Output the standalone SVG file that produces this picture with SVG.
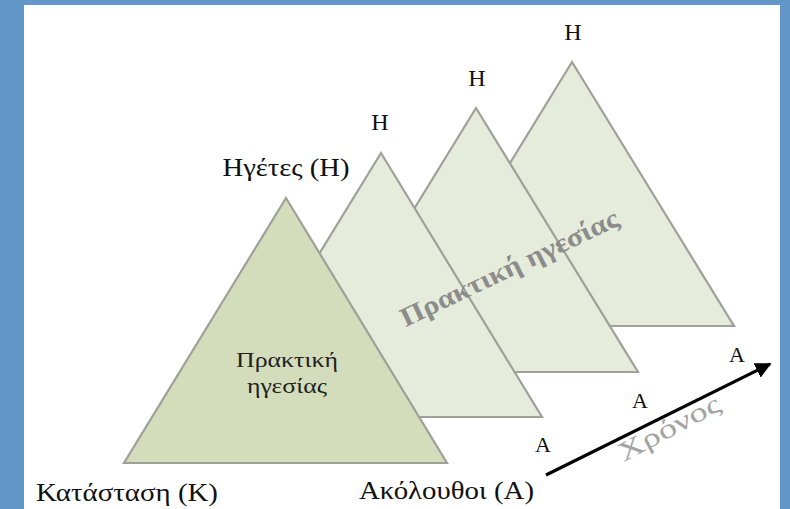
<svg xmlns="http://www.w3.org/2000/svg" width="790" height="509" viewBox="0 0 790 509">
<defs>
<style>
.tri{stroke:#9fa198;stroke-width:2.2;stroke-linejoin:miter}
.back{fill:#e6ecdb}
.front{fill:#d4ddbb}
text{font-family:'Liberation Serif','DejaVu Serif',serif}
</style>
<marker id="ah" viewBox="0 0 10 10" refX="9" refY="5" markerWidth="5" markerHeight="5" orient="auto" markerUnits="strokeWidth">
<path d="M0,0 L10,5 L0,10 z" fill="#000"/>
</marker>
</defs>
<rect x="0" y="0" width="790" height="509" fill="#6497c9"/>
<rect x="24" y="5" width="756" height="504" fill="#ffffff"/>
<g id="tri4"><polygon class="tri back" points="572,62 410,326 734,326"/></g>
<g id="tri3"><polygon class="tri back" points="476,108 314,372 638,372"/></g>
<g id="tri2"><polygon class="tri back" points="381,153 219,417 542,417"/></g>
<g id="tri1"><polygon class="tri front" points="286,198 124,463 447,463"/>
<text x="287" y="367" font-size="21" text-anchor="middle" fill="#222" textLength="102" lengthAdjust="spacingAndGlyphs">Πρακτική</text>
<text x="287" y="393" font-size="21" text-anchor="middle" fill="#222" textLength="80" lengthAdjust="spacingAndGlyphs">ηγεσίας</text>
</g>
<g id="labels" fill="#111">
<text x="286" y="176" font-size="25" text-anchor="middle" textLength="127" lengthAdjust="spacingAndGlyphs">Ηγέτες (Η)</text>
<text x="380" y="130" font-size="24" text-anchor="middle">Η</text>
<text x="477" y="86" font-size="24" text-anchor="middle">Η</text>
<text x="573" y="40" font-size="24" text-anchor="middle">Η</text>
<text x="36" y="501" font-size="25" textLength="182" lengthAdjust="spacingAndGlyphs">Κατάσταση (Κ)</text>
<text x="359" y="499" font-size="25" textLength="175" lengthAdjust="spacingAndGlyphs">Ακόλουθοι (Α)</text>
<text x="543" y="452" font-size="22" text-anchor="middle">Α</text>
<text x="640" y="408" font-size="22" text-anchor="middle">Α</text>
<text x="737" y="362" font-size="22" text-anchor="middle">Α</text>
</g>
<g id="connectors">
<line x1="546" y1="475" x2="770" y2="364" stroke="#000" stroke-width="3.2" marker-end="url(#ah)"/>
</g>
<text x="0" y="0" font-size="27" font-weight="bold" fill="#8c8c8c" text-anchor="middle" transform="translate(513,276) rotate(-25.5)" textLength="238" lengthAdjust="spacingAndGlyphs">Πρακτική ηγεσίας</text>
<text x="0" y="0" font-size="27" fill="#a3a3a3" text-anchor="middle" transform="translate(673,436) rotate(-28)" textLength="112" lengthAdjust="spacingAndGlyphs">Χρόνος</text>
</svg>
